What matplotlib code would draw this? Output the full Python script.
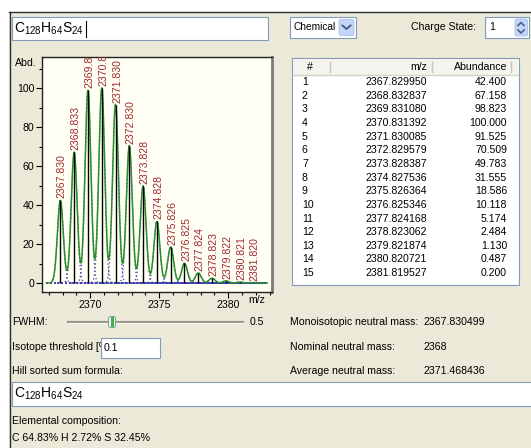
import numpy as np
import matplotlib.pyplot as plt
from matplotlib.patches import Rectangle, FancyBboxPatch
from matplotlib.ticker import MultipleLocator
import matplotlib.transforms as mtransforms

plt.rcParams['font.family'] = ['Liberation Sans', 'DejaVu Sans']

# isotope pattern of C128H64S24, charge 1
peak_mz = [2367.829950, 2368.832837, 2369.831080, 2370.831392, 2371.830085,
           2372.829579, 2373.828387, 2374.827536, 2375.826364, 2376.825346,
           2377.824168, 2378.823062, 2379.821874, 2380.820721, 2381.819527]
peak_abd = [42.400, 67.158, 98.823, 100.000, 91.525, 70.509, 49.783, 31.555,
            18.586, 10.118, 5.174, 2.484, 1.130, 0.487, 0.200]
fwhm = 0.5
charge = 1
threshold = 0.1
formula = r'$\mathregular{C_{128}H_{64}S_{24}}$'
mono_mass = '2367.830499'
nominal_mass = '2368'
avg_mass = '2371.468436'
composition = 'C 64.83% H 2.72% S 32.45%'

W, H = 531, 448
BEIGE = '#ece9d8'
EDGE = '#7f9db9'
FS = 7.6

fig = plt.figure(figsize=(W / 100, H / 100), dpi=100)
fig.patch.set_facecolor('white')

# whole window drawn in pixel units
ui = fig.add_axes([0, 0, 1, 1])
ui.set_xlim(0, W)
ui.set_ylim(H, 0)
ui.axis('off')
ui.add_patch(Rectangle((9, 12), W - 9, H - 12, fc=BEIGE, ec='none'))
ui.plot([9, W], [12.5, 12.5], color='#303030', lw=1)
ui.plot([9.5, 9.5], [12, H], color='#303030', lw=1)


def box(x0, y0, x1, y1, fc='white', ec=EDGE, z=2):
    ui.add_patch(Rectangle((x0, y0), x1 - x0, y1 - y0, fc=fc, ec=ec, lw=0.8, zorder=z))


def label(x, y, s, ha='left', size=FS, z=3, **kw):
    return ui.text(x, y, s, ha=ha, va='center', fontsize=size, zorder=z, **kw)


def spin_button(x0, y0, w, h):
    ui.add_patch(FancyBboxPatch((x0, y0), w, h, boxstyle='round,pad=0,rounding_size=2',
                                fc='#c4d5fb', ec='#aabfea', lw=0.6, zorder=3))


# top row: formula entry, mode combo, charge spinner
box(12, 17, 268, 40)
label(14, 29, formula, size=10)
ui.plot([85.5, 85.5], [21, 37], color='black', lw=0.8, zorder=3)
box(290, 17, 356, 38)
label(293, 27.5, 'Chemical', size=7.3)
spin_button(339, 19.5, 15, 16)
ui.plot([342.5, 346.5, 350.5], [25.5, 29, 25.5], color='#4d6185', lw=1.4, zorder=4)
label(411, 27.5, 'Charge State:')
box(485, 17, 529, 38)
label(489, 27.5, str(charge))
spin_button(515, 19, 12.5, 17)
ui.plot([518, 521, 524], [25.5, 22.5, 25.5], color='#4d6185', lw=1.2, zorder=4)
ui.plot([518, 521, 524], [30, 33, 30], color='#4d6185', lw=1.2, zorder=4)

# peak table
box(292, 58, 519, 285)
ui.add_patch(Rectangle((293, 59), 225, 16, fc='#f4f3ee', ec='none', zorder=3))
ui.plot([293, 518], [75, 75], color='#d5d2ca', lw=1, zorder=3)
for sx in [330, 432, 511]:
    ui.plot([sx, sx], [62, 72], color='#c8c5bb', lw=1, zorder=3)
label(310, 67, '#', ha='center')
label(427, 67, 'm/z', ha='right')
label(507, 67, 'Abundance', ha='right')
for i, (m, a) in enumerate(zip(peak_mz, peak_abd)):
    ry = 82 + i * 13.65
    label(302, ry, str(i + 1))
    label(427, ry, f'{m:.6f}', ha='right')
    label(507, ry, f'{a:.3f}', ha='right')

# lower settings and mass readouts
label(12, 322, 'FWHM:')
ui.plot([68, 243], [322, 322], color='#9c9a90', lw=1.6, zorder=2)
ui.plot([68, 243], [323, 323], color='white', lw=0.6, zorder=2)
ui.add_patch(FancyBboxPatch((108.5, 316.5), 7, 11, boxstyle='round,pad=0,rounding_size=2',
                            fc='#f6f6f2', ec='#8a98a6', lw=0.7, zorder=3))
ui.plot([112, 112], [318.5, 325.5], color='#38b838', lw=2.2, zorder=4)
label(250, 322, f'{fwhm:.1f}')
# the threshold caption runs under its entry box and is cut off there
cap = label(12, 347, 'Isotope threshold [%]:')
cap.set_clip_path(Rectangle((0, 0), 101, H, transform=ui.transData))
box(101, 338, 160, 358, z=4)
label(104, 348, f'{threshold:.1f}', z=5)
label(12, 371, 'Hill sorted sum formula:')
label(290, 322, 'Monoisotopic neutral mass:')
label(290, 347, 'Nominal neutral mass:')
label(290, 371, 'Average neutral mass:')
label(424, 322, mono_mass)
label(424, 347, nominal_mass)
label(424, 371, avg_mass)
box(12, 382, W + 2, 406)
label(14, 394, formula, size=10)
label(12, 421, 'Elemental composition:')
label(12, 438, composition)

# spectrum: sticks, single-peak profiles and their sum
mz = np.array(peak_mz)
abd = np.array(peak_abd)
sigma = fwhm / (2 * np.sqrt(2 * np.log(2)))
x = np.arange(mz[0] - 1, mz[-1] + 1, 0.02)
single = abd[:, None] * np.exp(-(x[None, :] - mz[:, None]) ** 2 / (2 * sigma ** 2))
total = single.sum(axis=0)

ax = fig.add_axes([42 / W, 1 - 292 / H, 230 / W, 235 / H])
ax.set_facecolor('#fffff6')
for prof in single:
    ax.plot(x, prof, color='#3b3bb0', lw=0.9, ls=(0, (1, 2)))
ax.plot(x, total, color='#2a8f2a', lw=1.1)
ax.vlines(mz, 0, abd, color='black', lw=1)

shift = mtransforms.offset_copy(ax.transData, fig=fig, x=1.6, y=2, units='dots')
for m, a in zip(mz, abd):
    ax.text(m, a, f'{m:.3f}', rotation=90, ha='center', va='bottom', transform=shift,
            color='#a02a2a', fontsize=FS, clip_on=True)

ax.set_xlim(2366.5, 2383.17)
ax.set_ylim(-4.6, 115.9)
ax.xaxis.set_major_locator(MultipleLocator(5))
ax.xaxis.set_minor_locator(MultipleLocator(1))
ax.yaxis.set_major_locator(MultipleLocator(20))
ax.yaxis.set_minor_locator(MultipleLocator(10))
ax.tick_params(which='both', direction='out', labelsize=FS, pad=1.5, width=0.8)
ax.tick_params(which='major', length=4)
ax.tick_params(which='minor', length=2.5)
for side in ['left', 'bottom', 'top']:
    ax.spines[side].set_color('#222222')
    ax.spines[side].set_linewidth(1)
ax.spines['right'].set_color('#7a7a7a')
ax.spines['right'].set_linewidth(2)
label(37, 63, 'Abd.', ha='right')
label(248, 300, 'm/z')

fig.savefig('out.png', dpi=100)
